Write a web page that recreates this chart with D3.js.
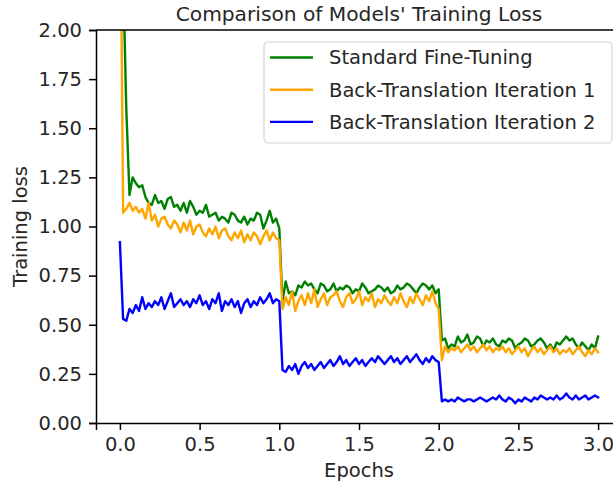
<!DOCTYPE html>
<html>
<head>
<meta charset="utf-8">
<script src="https://cdn.jsdelivr.net/npm/d3@7"></script>
<style>
  body { margin: 0; background: #fff; }
  text { font-family: "DejaVu Sans", sans-serif; fill: #262626; }
</style>
</head>
<body>
<script>
// Epoch positions (logged every 0.02 epoch)
const epochs = d3.range(151).map(i => i / 50);

const seriesNames = ["Standard Fine-Tuning", "Back-Translation Iteration 1", "Back-Translation Iteration 2"];
const seriesColors = ["green", "orange", "blue"];

const standardLoss = [
  3.2, 2.3, 1.6, 1.16, 1.25, 1.22, 1.20, 1.21, 1.15, 1.12,
  1.11, 1.16, 1.12, 1.13, 1.09, 1.14, 1.15, 1.10, 1.11, 1.08,
  1.12, 1.07, 1.13, 1.10, 1.06, 1.08, 1.07, 1.11, 1.05, 1.06,
  1.07, 1.03, 1.05, 1.04, 1.02, 1.07, 1.06, 1.03, 1.02, 1.05,
  1.01, 1.04, 1.03, 1.07, 1.06, 0.99, 1.03, 1.08, 1.02, 1.04,
  0.99,
  0.62, 0.72, 0.66, 0.67, 0.65, 0.70, 0.69, 0.72, 0.70, 0.71,
  0.68, 0.66, 0.71, 0.70, 0.67, 0.68, 0.71, 0.67, 0.69, 0.68,
  0.70, 0.69, 0.66, 0.68, 0.67, 0.71, 0.69, 0.66, 0.67, 0.68,
  0.70, 0.69, 0.67, 0.69, 0.66, 0.67, 0.70, 0.68, 0.69, 0.71,
  0.70, 0.68, 0.66, 0.69, 0.71, 0.70, 0.68, 0.70, 0.66, 0.68,
  0.42, 0.43, 0.38, 0.40, 0.39, 0.44, 0.41, 0.42, 0.45, 0.40,
  0.41, 0.44, 0.43, 0.39, 0.42, 0.41, 0.43, 0.40, 0.39, 0.42,
  0.41, 0.43, 0.42, 0.38, 0.40, 0.41, 0.43, 0.42, 0.39, 0.40,
  0.42, 0.43, 0.41, 0.38, 0.40, 0.37, 0.41, 0.40, 0.42, 0.44,
  0.42, 0.43, 0.40, 0.38, 0.41, 0.39, 0.37, 0.40, 0.38, 0.44
];

const backIter1Loss = [
  3.0, 1.07, 1.09, 1.12, 1.08, 1.10, 1.07, 1.09, 1.04, 1.12,
  1.03, 1.06, 1.00, 1.04, 1.05, 1.01, 0.99, 1.03, 1.01, 0.97,
  1.02, 0.98, 1.03, 0.96, 1.00, 1.01, 0.97, 0.95, 0.99, 0.96,
  1.00, 0.94, 0.98, 0.99, 0.95, 0.93, 0.97, 0.94, 0.98, 0.92,
  0.96, 0.93, 0.97, 0.95, 0.91, 0.95, 0.98, 0.93, 0.97, 0.94,
  0.93,
  0.58, 0.64, 0.60, 0.67, 0.57, 0.62, 0.65, 0.60, 0.66, 0.61,
  0.68, 0.59, 0.63, 0.66, 0.60, 0.64, 0.65, 0.67, 0.62, 0.59,
  0.64, 0.66, 0.61, 0.63, 0.67, 0.60, 0.64, 0.62, 0.66, 0.59,
  0.63, 0.61, 0.65, 0.62, 0.60, 0.64, 0.61, 0.66, 0.62, 0.59,
  0.64, 0.61, 0.66, 0.63, 0.60, 0.65, 0.62, 0.67, 0.61, 0.58,
  0.32, 0.39, 0.36, 0.38, 0.37, 0.39, 0.36, 0.38, 0.40, 0.37,
  0.39, 0.36, 0.38, 0.40, 0.37, 0.39, 0.36, 0.38, 0.37, 0.39,
  0.36, 0.38, 0.35, 0.37, 0.39, 0.36, 0.38, 0.34, 0.37, 0.39,
  0.36, 0.38, 0.35, 0.37, 0.39, 0.36, 0.38, 0.35, 0.37, 0.36,
  0.38, 0.35, 0.37, 0.39, 0.36, 0.34, 0.37, 0.35, 0.38, 0.36
];

const backIter2Loss = [
  0.92, 0.53, 0.52, 0.58, 0.56, 0.60, 0.57, 0.64, 0.58, 0.61,
  0.59, 0.62, 0.60, 0.64, 0.58, 0.62, 0.66, 0.59, 0.61, 0.63,
  0.60, 0.62, 0.59, 0.63, 0.61, 0.65, 0.60, 0.62, 0.58, 0.63,
  0.61, 0.66, 0.57, 0.62, 0.60, 0.63, 0.59, 0.62, 0.56, 0.61,
  0.63, 0.59, 0.62, 0.60, 0.64, 0.61, 0.63, 0.66, 0.61, 0.63,
  0.62,
  0.27, 0.26, 0.29, 0.27, 0.30, 0.25, 0.29, 0.31, 0.28, 0.30,
  0.27, 0.29, 0.31, 0.28, 0.30, 0.32, 0.29, 0.31, 0.34, 0.30,
  0.32, 0.29, 0.31, 0.33, 0.30, 0.32, 0.29, 0.31, 0.33, 0.31,
  0.34, 0.32, 0.30, 0.32, 0.34, 0.31, 0.33, 0.30, 0.32, 0.34,
  0.31, 0.33, 0.35, 0.32, 0.30, 0.33, 0.31, 0.34, 0.32, 0.31,
  0.11, 0.12, 0.11, 0.12, 0.11, 0.13, 0.12, 0.11, 0.12, 0.12,
  0.11, 0.12, 0.13, 0.12, 0.11, 0.12, 0.13, 0.12, 0.14, 0.12,
  0.11, 0.13, 0.12, 0.10, 0.12, 0.11, 0.13, 0.12, 0.11, 0.13,
  0.12, 0.14, 0.13, 0.12, 0.13, 0.12, 0.14, 0.12, 0.13, 0.15,
  0.13, 0.12, 0.14, 0.12, 0.13, 0.14, 0.12, 0.13, 0.14, 0.13
];

const xTicks = [0, 0.5, 1, 1.5, 2, 2.5, 3];
const yTicks = [0, 0.25, 0.5, 0.75, 1, 1.25, 1.5, 1.75, 2];

// Set the dimensions and margins (plot area runs past the right edge, like the cropped figure)
const margin = {top: 30, right: -9, bottom: 63, left: 96},
      width = 613 - margin.left - margin.right,
      height = 486 - margin.top - margin.bottom;

const svg = d3.select("body")
  .append("svg")
    .attr("width", 613)
    .attr("height", 486)
  .append("g")
    .attr("transform", "translate(" + margin.left + "," + margin.top + ")");

const x = d3.scaleLinear()
    .domain([-0.15, 3.15])
    .range([0, width]);

const y = d3.scaleLinear()
    .domain([0, 2])
    .range([height, 0]);

svg.append("clipPath")
    .attr("id", "plot-clip")
  .append("rect")
    .attr("width", width)
    .attr("height", height);

// Lines
const allSeries = [standardLoss, backIter1Loss, backIter2Loss];
const line = d3.line()
    .x((d, i) => x(epochs[i]))
    .y(d => y(d));

svg.append("g")
    .attr("clip-path", "url(#plot-clip)")
  .selectAll("path")
  .data(allSeries)
  .enter()
  .append("path")
    .attr("d", line)
    .attr("fill", "none")
    .attr("stroke", (d, i) => seriesColors[i])
    .attr("stroke-width", 2.4)
    .attr("stroke-linejoin", "round")
    .attr("stroke-linecap", "square");

// X axis
const xAxis = svg.append("g")
    .attr("transform", "translate(0," + height + ")")
    .call(d3.axisBottom(x).tickValues(xTicks).tickFormat(d3.format(".1f"))
      .tickSize(7).tickPadding(7));

// Y axis
const yAxis = svg.append("g")
    .call(d3.axisLeft(y).tickValues(yTicks).tickFormat(d3.format(".2f"))
      .tickSize(7).tickPadding(7));

[xAxis, yAxis].forEach(function(a) {
  a.select(".domain").attr("stroke", "#000").attr("stroke-width", 1.5);
  a.selectAll(".tick line").attr("stroke", "#000").attr("stroke-width", 1.5);
  a.selectAll(".tick text")
    .style("font-family", "DejaVu Sans, sans-serif")
    .style("font-size", "19.5px")
    .attr("fill", "#262626");
});

// top spine
svg.append("line")
    .attr("x1", 0).attr("x2", width)
    .attr("y1", 0).attr("y2", 0)
    .attr("stroke", "#000")
    .attr("stroke-width", 1.5);

// Axis labels
svg.append("text")
    .attr("x", x(1.5))
    .attr("y", height + 54)
    .style("text-anchor", "middle")
    .style("font-size", "19.5px")
    .text("Epochs");

svg.append("text")
    .attr("transform", "translate(" + (-69) + "," + (height / 2) + ") rotate(-90)")
    .style("text-anchor", "middle")
    .style("font-size", "19.5px")
    .text("Training loss");

// Title
svg.append("text")
    .attr("x", width / 2)
    .attr("y", -9)
    .style("text-anchor", "middle")
    .style("font-size", "20.2px")
    .text("Comparison of Models' Training Loss");

// Legend
const legend = svg.append("g")
    .attr("transform", "translate(" + (264 - margin.left) + "," + (42 - margin.top) + ")");

legend.append("rect")
    .attr("width", 348)
    .attr("height", 101)
    .attr("rx", 4)
    .attr("fill", "#fff")
    .attr("fill-opacity", 0.8)
    .attr("stroke", "#d6d6d6")
    .attr("stroke-width", 1.2);

const rows = legend.selectAll("g.row")
  .data(seriesNames)
  .enter()
  .append("g")
    .attr("class", "row")
    .attr("transform", (d, i) => "translate(0," + (15.5 + i * 32.2) + ")");

rows.append("line")
    .attr("x1", 6).attr("x2", 49)
    .attr("stroke", (d, i) => seriesColors[i])
    .attr("stroke-width", 2.4);

rows.append("text")
    .attr("x", 65)
    .attr("dy", "0.35em")
    .style("font-size", "19.5px")
    .text(d => d);
</script>
</body>
</html>
